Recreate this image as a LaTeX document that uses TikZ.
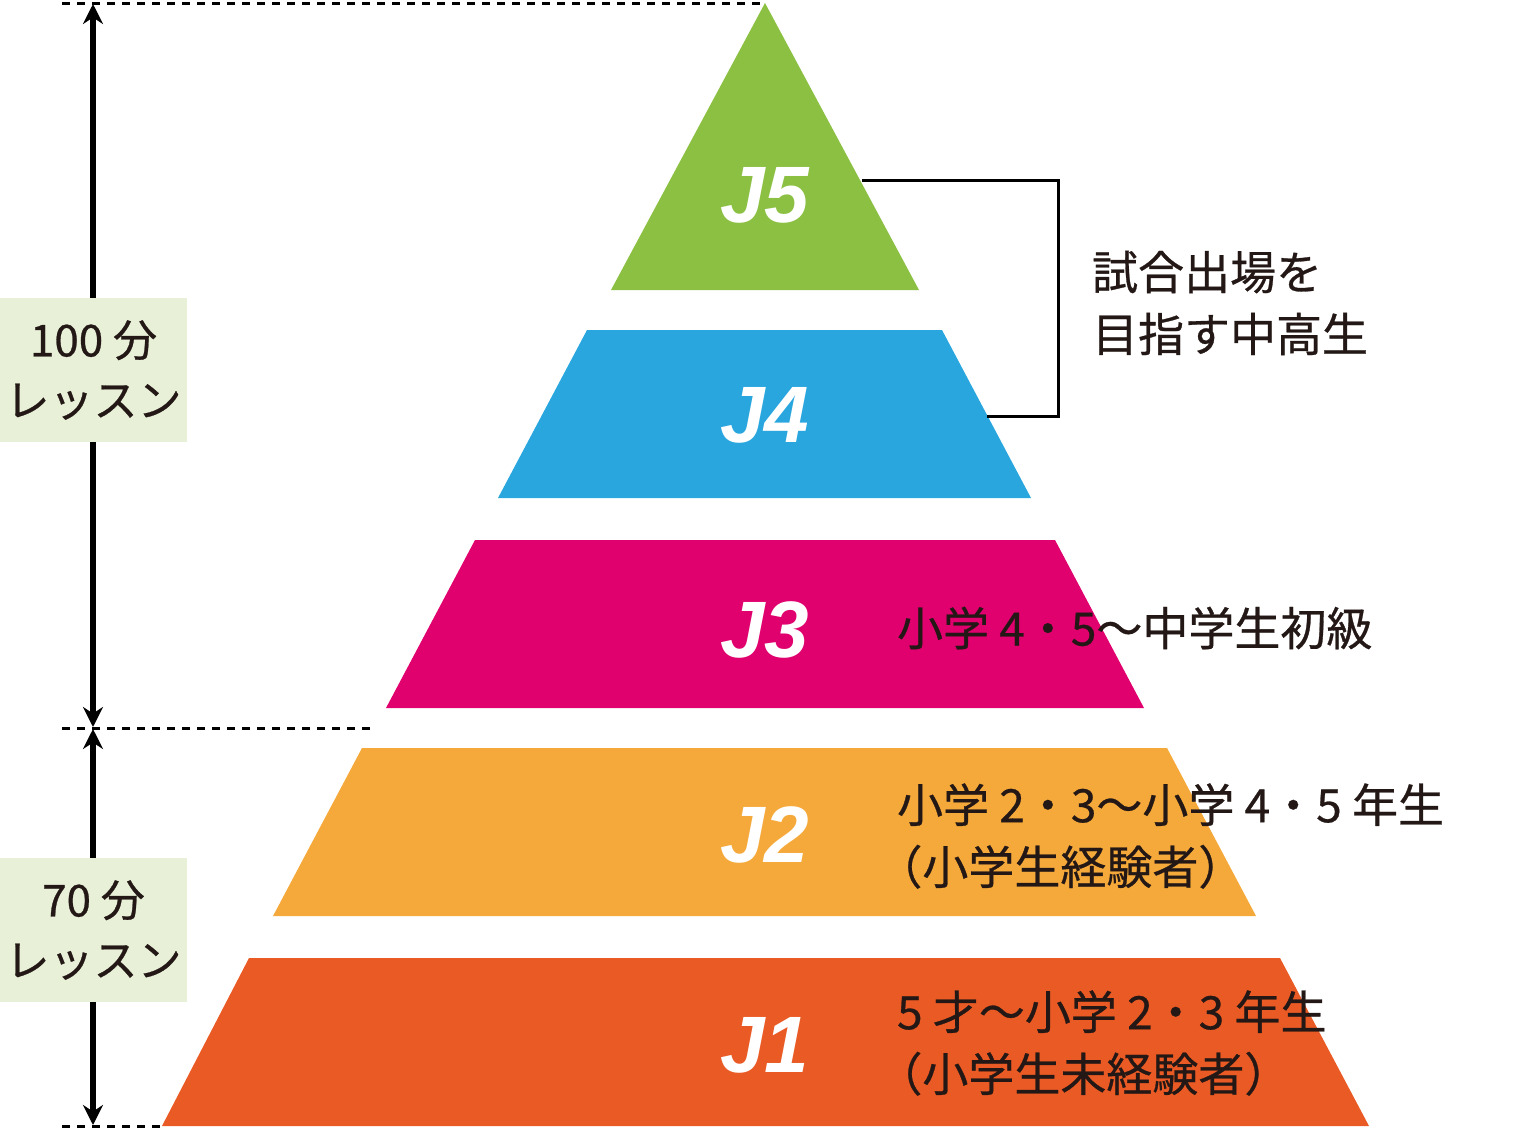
\documentclass[tikz,border=0pt]{standalone}
\usepackage{fontspec}
\newfontfamily\cjk[FakeBold=0.6]{Noto Sans CJK JP}
\setmainfont{Liberation Sans}
\usetikzlibrary{arrows.meta}
\definecolor{colG}{HTML}{8BC043}
\definecolor{colB}{HTML}{29A6DE}
\definecolor{colM}{HTML}{E0006E}
\definecolor{colO}{HTML}{F5A93B}
\definecolor{colR}{HTML}{E95A24}
\definecolor{colT}{HTML}{231815}
\definecolor{colBox}{HTML}{E8F1D8}
\tikzset{
 jlab/.style={text=white,font=\fontsize{40}{40}\selectfont\bfseries\itshape},
 desc/.style={text=colT,font=\cjk\fontsize{23}{31}\selectfont,anchor=west,align=left},
 dimarrow/.style={line width=3pt,{Stealth[length=10pt,width=10pt]}-{Stealth[length=10pt,width=10pt]}},
 dashln/.style={line width=1.5pt,dash pattern=on 4pt off 3.5pt},
 lbox/.style={fill=colBox,text=colT,font=\cjk\fontsize{22}{30}\selectfont,align=center,minimum width=93.5pt,minimum height=72pt,inner sep=0pt}
}
\begin{document}
\begin{tikzpicture}[x=0.5pt,y=-0.5pt]
\useasboundingbox (0,0) rectangle (1525,1130);
\fill[colG] (765,3) -- (919,290) -- (611,290) -- cycle;
\fill[colB] (587,330) -- (942,330) -- (1031,498) -- (498,498) -- cycle;
\fill[colM] (475,540) -- (1055,540) -- (1144,708) -- (386,708) -- cycle;
\fill[colO] (362,748) -- (1167,748) -- (1256,916) -- (273,916) -- cycle;
\fill[colR] (249,958) -- (1280,958) -- (1369,1126) -- (162,1126) -- cycle;
\node[jlab] (j5) at (765,195) {J5};
\node[jlab] (j4) at (765,415) {J4};
\node[jlab] (j3) at (765,630) {J3};
\node[jlab] (j2) at (765,835) {J2};
\node[jlab] (j1) at (765,1045) {J1};
\coordinate (b1) at (862,180);
\coordinate (b2) at (987,416);
\draw[line width=1.5pt] (b1) -- (1058,180) -- (1058,416) -- (b2);
\node[desc] (t45) at (1085,303) {試合出場を\\目指す中高生};
\node[desc] (t3) at (890,628) {小学 4・5～中学生初級};
\node[desc] (t2) at (890,836) {小学 2・3～小学 4・5 年生\\\hspace*{-0.45em}（小学生経験者）};
\node[desc] (t1) at (890,1043) {5 才～小学 2・3 年生\\\hspace*{-0.45em}（小学生未経験者）};
\coordinate (d1a) at (62,3); \coordinate (d1b) at (765,3);
\coordinate (d2a) at (62,728); \coordinate (d2b) at (372,728);
\coordinate (d3a) at (62,1126); \coordinate (d3b) at (162,1126);
\draw[dashln] (d1a) -- (d1b);
\draw[dashln] (d2a) -- (d2b);
\draw[dashln] (d3a) -- (d3b);
\coordinate (a1) at (93,4); \coordinate (a2) at (93,727);
\coordinate (a3) at (93,729); \coordinate (a4) at (93,1125);
\draw[dimarrow] (a1) -- (a2);
\draw[dimarrow] (a3) -- (a4);
\node[lbox] (l100) at (93.5,370) {100 分\\レッスン};
\node[lbox] (l70) at (93.5,930) {70 分\\レッスン};
\end{tikzpicture}
\end{document}
